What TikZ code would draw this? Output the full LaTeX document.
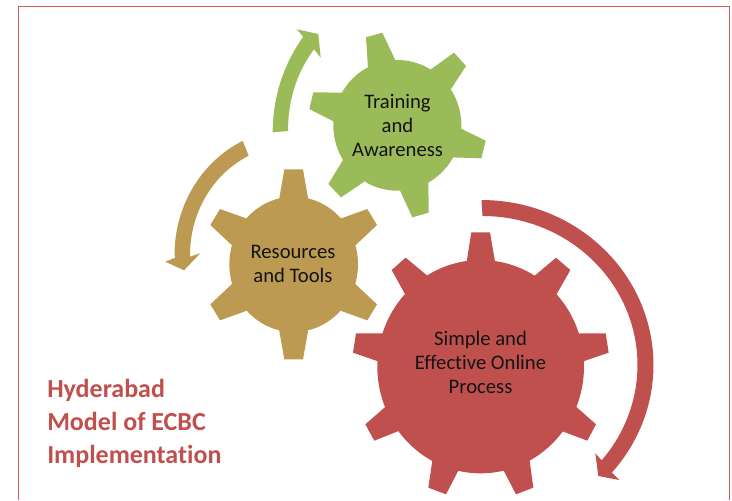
\documentclass[tikz,border=0pt]{standalone}
\usepackage{fontspec}
\setmainfont[Ligatures=CommonOff]{Carlito}
\definecolor{gearred}{HTML}{C0504D}
\definecolor{geargreen}{HTML}{9BBB59}
\definecolor{gearbrown}{HTML}{BD9A52}
\definecolor{frameline}{HTML}{D65C5C}
\tikzset{
  gearlabel/.style={align=center,text=black!92,inner sep=0pt,font=\fontsize{15.5pt}{18pt}\selectfont},
  titlelabel/.style={align=left,anchor=north west,text=gearred,inner sep=0pt,font=\fontsize{19.5pt}{25pt}\selectfont\bfseries},
}
\begin{document}
\begin{tikzpicture}[x=0.75pt,y=-0.75pt]
\useasboundingbox (0,0) rectangle (732,500);
\draw[frameline,line width=0.8pt] (18.5,500) -- (18.5,6.5) -- (729.5,6.5) -- (729.5,500);

% green gear (coordinates from a 3x crop, offset 260,20)
\begin{scope}[shift={(260,20)},x=0.25pt,y=-0.25pt,fill=geargreen]
\fill (412,316) ellipse [x radius=192,y radius=196];
\fill (325,160)--(318,52)--(367,38)--(408,125)--cycle;
\fill (510,150)--(582,98)--(618,138)--(570,212)--cycle;
\fill (595,322)--(677,362)--(664,415)--(572,412)--cycle;
\fill (505,480)--(506,578)--(457,592)--(417,505)--cycle;
\fill (313,485)--(243,532)--(205,492)--(252,415)--cycle;
\fill (228,308)--(148,267)--(160,217)--(250,218)--cycle;
\end{scope}

% brown gear (offset 160,160)
\begin{scope}[shift={(160,160)},x=0.25pt,y=-0.25pt,fill=gearbrown]
\fill (401,313) ellipse [x radius=193,y radius=203];
\fill (357,120)--(373,28)--(429,28)--(445,120)--cycle;
\fill (541,176)--(622,147)--(651,195)--(584,258)--cycle;
\fill (584,370)--(651,433)--(622,481)--(541,452)--cycle;
\fill (445,508)--(429,598)--(373,598)--(357,508)--cycle;
\fill (261,452)--(180,481)--(151,433)--(218,370)--cycle;
\fill (218,258)--(151,195)--(180,147)--(261,176)--cycle;
\end{scope}

% red gear (offset 340,190)
\begin{scope}[shift={(340,190)},x=0.25pt,y=-0.25pt,fill=gearred]
\fill (422,530) ellipse [x radius=310,y radius=320];
\fill (380,215)--(394,127)--(450,127)--(465,215)--cycle;
\fill (583,258)--(648,203)--(691,240)--(648,316)--cycle;
\fill (712,430)--(797,430)--(806,488)--(727,515)--cycle;
\fill (706,648)--(768,703)--(742,752)--(662,722)--cycle;
\fill (568,805)--(580,893)--(528,913)--(489,838)--cycle;
\fill (357,838)--(318,913)--(265,893)--(278,805)--cycle;
\fill (178,722)--(103,752)--(76,703)--(139,648)--cycle;
\fill (117,515)--(39,488)--(48,430)--(133,430)--cycle;
\fill (197,316)--(155,240)--(197,203)--(263,258)--cycle;
\end{scope}

% green arrow
\fill[geargreen] (272.7,132.3) .. controls (272.7,95) and (285,62) .. (303.3,36.7)
  -- (296.7,29.3) -- (318.3,34) -- (320.7,57.7) -- (314,49.3)
  .. controls (300,68) and (288,95) .. (288,131) -- cycle;

% brown arrow
\fill[gearbrown] plot[domain=244.9:180,samples=40] ({293+118.5*cos(\x)},{255+126*sin(\x)})
  -- (175.3,257.7) -- (165.3,261.7) -- (184,270.3) -- (200.3,253.3) -- (190,256.7)
  -- plot[domain=180:244.5,samples=40] ({293+103*cos(\x)},{255+110*sin(\x)}) -- cycle;

% red arrow
\fill[gearred] plot[domain=-90:40.7,samples=60] ({481.5+172*cos(\x)},{365+165*sin(\x)})
  -- (619.3,480) -- (598.3,476) -- (595.3,453.3) -- (602,460.7)
  -- plot[domain=39.6:-90,samples=60] ({482.5+155*cos(\x)},{365+149*sin(\x)}) -- cycle;

\node[gearlabel] (training) at (397.5,125) {Training\\and\\Awareness};
\node[gearlabel] (resources) at (293,263.5) {Resources\\and Tools};
\node[gearlabel] (simple) at (480.5,362) {Simple and\\Effective Online\\Process};
\node[titlelabel] (title) at (47,378.5) {Hyderabad\\Model of ECBC\\Implementation};
\end{tikzpicture}
\end{document}
